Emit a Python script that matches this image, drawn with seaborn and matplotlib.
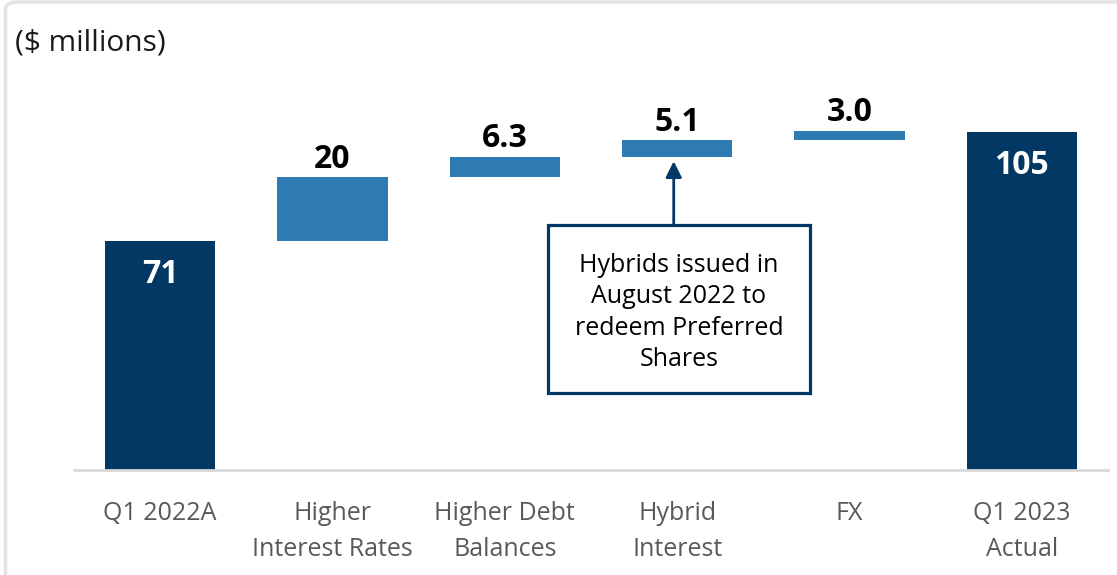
import matplotlib
matplotlib.use("Agg")
import matplotlib.pyplot as plt
import seaborn as sns
import pandas as pd
from matplotlib.patches import Rectangle, FancyBboxPatch

# ---- data ----
categories = ["Q1 2022A", "Higher\nInterest Rates", "Higher Debt\nBalances",
              "Hybrid\nInterest", "FX", "Q1 2023\nActual"]
values = [71, 20, 6.3, 5.1, 3.0, 105]
value_labels = ["71", "20", "6.3", "5.1", "3.0", "105"]
kinds = ["total", "delta", "delta", "delta", "delta", "total"]
unit_label = "($ millions)"
note_text = "Hybrids issued in\nAugust 2022 to\nredeem Preferred\nShares"

# waterfall bottoms
bottoms = []
running = 0.0
for v, k in zip(values, kinds):
    if k == "total":
        bottoms.append(0.0)
        running = v
    else:
        bottoms.append(running)
        running += v

df = pd.DataFrame({"cat": categories, "val": values, "kind": kinds, "bottom": bottoms})

NAVY = "#033864"
LIGHT = "#2e7bb3"
GRAY_TXT = "#595959"
AXIS_GRAY = "#d9d9d9"
kind_colors = {"total": NAVY, "delta": LIGHT}

sns.set_theme(style="white")
plt.rcParams["font.family"] = ["Open Sans", "DejaVu Sans"]

fig = plt.figure(figsize=(11.17, 5.75), dpi=100)
ax = fig.add_axes([74 / 1117, 105 / 575, (1108 - 74) / 1117, 402.5 / 575])

sns.barplot(data=df, x="cat", y="val", order=categories, color=LIGHT, width=0.64,
            bottom=df["bottom"].values, saturation=1, ax=ax, linewidth=0)
for patch, k in zip(ax.patches, kinds):
    patch.set_facecolor(kind_colors[k])

ax.set_ylim(0, 125)
ax.set_xlim(-0.5, len(categories) - 0.5)
ax.set_xlabel("")
ax.set_ylabel("")
ax.set_yticks([])
for s in ["top", "left", "right"]:
    ax.spines[s].set_visible(False)
ax.spines["bottom"].set_color(AXIS_GRAY)
ax.spines["bottom"].set_linewidth(2)

ax.set_xticks(range(len(categories)))
ax.set_xticklabels(categories, fontsize=18, color=GRAY_TXT, linespacing=1.58)
ax.tick_params(axis="x", which="major", length=0, pad=22)
ax.set_xticks([i - 0.5 for i in range(len(categories) + 1)], minor=True)
ax.tick_params(axis="x", which="minor", length=10, width=1.5, color=AXIS_GRAY)

# value labels
for i, (v, b, k, lab) in enumerate(zip(values, bottoms, kinds, value_labels)):
    top = b + v
    if k == "total":
        ax.annotate(lab, (i, top), xytext=(0, -12), textcoords="offset points",
                    ha="center", va="top", fontsize=23, fontweight="bold", color="white")
    else:
        ax.annotate(lab, (i, top), xytext=(0, 1), textcoords="offset points",
                    ha="center", va="bottom", fontsize=23, fontweight="bold", color="black")

# note box with arrow to the Hybrid Interest bar
bx0, bx1, by0, by1 = 2.25, 3.77, 23.9, 76.1
ax.add_patch(Rectangle((bx0, by0), bx1 - bx0, by1 - by0, fill=False,
                       edgecolor=NAVY, linewidth=2.3, zorder=5))
ax.text((bx0 + bx1) / 2, (by0 + by1) / 2 - 1.1, note_text, ha="center", va="center",
        fontsize=18, color="black", linespacing=1.33, zorder=6)
hyb = 3
ax.annotate("", xy=(hyb - 0.02, bottoms[hyb] - 1.4), xytext=(hyb - 0.02, by1),
            arrowprops=dict(arrowstyle="-|>", color=NAVY, lw=2, mutation_scale=24,
                            shrinkA=0, shrinkB=0), zorder=6)

# unit label
fig.text(15 / 1117, 1 - 43 / 575, unit_label, fontsize=21.5, color="#1a1a1a",
         ha="left", va="center")

# panel border (light gray, rounded top-left corner)
fig.patches.append(FancyBboxPatch((5.5 / 1117, -0.1), 1.2, 1 - 2 / 575 + 0.1,
                                  boxstyle="round,pad=0,rounding_size=0.012",
                                  transform=fig.transFigure, fill=False,
                                  edgecolor="#e3e3e3", linewidth=2.5, zorder=0))

fig.savefig("out.png", dpi=100, facecolor="white")
